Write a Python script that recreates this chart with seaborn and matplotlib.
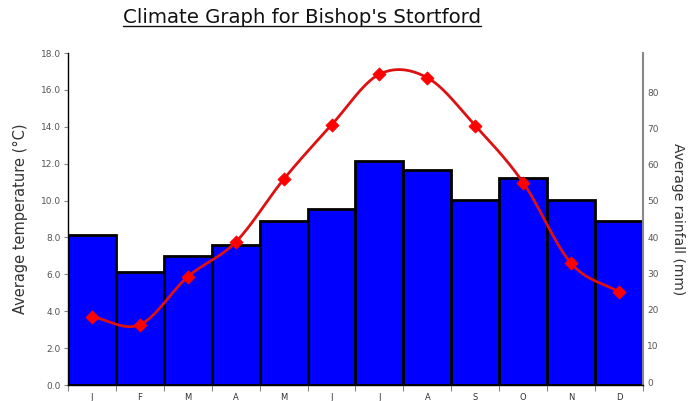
import numpy as np
import pandas as pd
import matplotlib
matplotlib.use("Agg")
import matplotlib.pyplot as plt
import matplotlib.ticker as mticker
import matplotlib.transforms as mtransforms
from matplotlib.lines import Line2D
import seaborn as sns

# data
months = ["J", "F", "M", "A", "M", "J", "J", "A", "S", "O", "N", "D"]
rainfall_mm = [41.4, 31.3, 35.6, 38.6, 45.2, 48.6, 61.8, 59.3, 51.0, 57.0, 51.0, 45.2]
temperature_c = [3.7, 3.27, 5.87, 7.75, 11.15, 14.1, 16.85, 16.66, 14.06, 10.97, 6.6, 5.04]

sns.set_theme(style="white")
plt.rcParams["font.family"] = ["DejaVu Sans"]

df = pd.DataFrame({"idx": range(12), "month": months,
                   "rain": rainfall_mm, "temp": temperature_c})

fig = plt.figure(figsize=(6.89, 4.01), dpi=100)
ax = fig.add_axes([0.0987, 0.0399, 0.8345, 0.8279])
ax2 = ax.twinx()

# bars on the rainfall axis
sns.barplot(data=df, x="idx", y="rain", ax=ax2, color="#0000FF", width=1.0,
            edgecolor="black", linewidth=2, saturation=1)
ax2.set_ylim(0, 91.6)
ax2.set_xlabel("")

# smoothed temperature line (Catmull-Rom through the points)
x = np.arange(12, dtype=float)
y = np.array(temperature_c)
xp = np.concatenate([[x[0] - 1], x, [x[-1] + 1]])
yp = np.concatenate([[2 * y[0] - y[1]], y, [2 * y[-1] - y[-2]]])
xs, ys = [], []
for i in range(1, len(xp) - 2):
    t = np.linspace(0, 1, 30)
    p0, p1, p2, p3 = yp[i - 1], yp[i], yp[i + 1], yp[i + 2]
    ys.append(0.5 * (2 * p1 + (-p0 + p2) * t + (2 * p0 - 5 * p1 + 4 * p2 - p3) * t**2
                     + (-p0 + 3 * p1 - 3 * p2 + p3) * t**3))
    xs.append(xp[i] + t * (xp[i + 1] - xp[i]))
ax.plot(np.concatenate(xs), np.concatenate(ys), color="#DD1111", linewidth=2, zorder=3)
sns.scatterplot(data=df, x="idx", y="temp", ax=ax, marker="D", s=45,
                color="#FF0000", edgecolor="#FF0000", zorder=4)

ax.set_zorder(ax2.get_zorder() + 1)
ax.patch.set_visible(False)
ax.set_ylim(0, 18)

# left axis
ax.yaxis.set_major_locator(mticker.MultipleLocator(2))
ax.yaxis.set_major_formatter(mticker.FormatStrFormatter("%.1f"))
ax.tick_params(axis="y", which="major", left=True, length=3, width=0.8, color="#888888",
               labelsize=6.5, labelcolor="#555555", pad=2)
ax.set_ylabel("Average temperature (°C)", fontsize=10.5, color="#333333", labelpad=9)

# x axis: labels at centres, ticks at boundaries
ax.set_xticks(range(12))
ax.set_xticklabels(months)
ax.set_xticks(np.arange(-0.5, 12, 1), minor=True)
ax.tick_params(axis="x", which="major", bottom=True, length=0, labelsize=6,
               labelcolor="#333333", pad=6)
ax.tick_params(axis="x", which="minor", bottom=True, length=4, width=0.8, color="#888888")
ax.set_xlabel("")
ax.set_xlim(-0.5, 11.5)

# right axis
ax2.yaxis.set_major_locator(mticker.FixedLocator(range(0, 81, 10)))
ax2.tick_params(axis="y", right=True, length=0, labelsize=6.5, labelcolor="#555555", pad=3)
shift = mtransforms.ScaledTranslation(0, 3 / 100, fig.dpi_scale_trans)
for lab in ax2.get_yticklabels():
    lab.set_transform(lab.get_transform() + shift)
ax2.set_ylabel("Average rainfall (mm)", fontsize=10, color="#333333",
               rotation=-90, labelpad=19)

for a in (ax, ax2):
    a.spines["top"].set_visible(False)
ax.spines["right"].set_visible(False)
ax.spines["left"].set_color("black")
ax.spines["bottom"].set_color("black")
ax.spines["left"].set_linewidth(1)
ax.spines["bottom"].set_linewidth(1)
ax2.spines["left"].set_visible(False)
ax2.spines["bottom"].set_visible(False)
ax2.spines["right"].set_color("#888888")
ax2.spines["right"].set_linewidth(1.5)

# underlined title
title = fig.text(0.439, 0.957, "Climate Graph for Bishop's Stortford", ha="center",
                 va="center", fontsize=14.2, color="#111111")
fig.canvas.draw()
bb = title.get_window_extent().transformed(fig.transFigure.inverted())
fig.add_artist(Line2D([bb.x0, bb.x1], [bb.y0 + 0.002, bb.y0 + 0.002],
                      transform=fig.transFigure, color="#111111", linewidth=1))

fig.savefig("out.png", dpi=100)
